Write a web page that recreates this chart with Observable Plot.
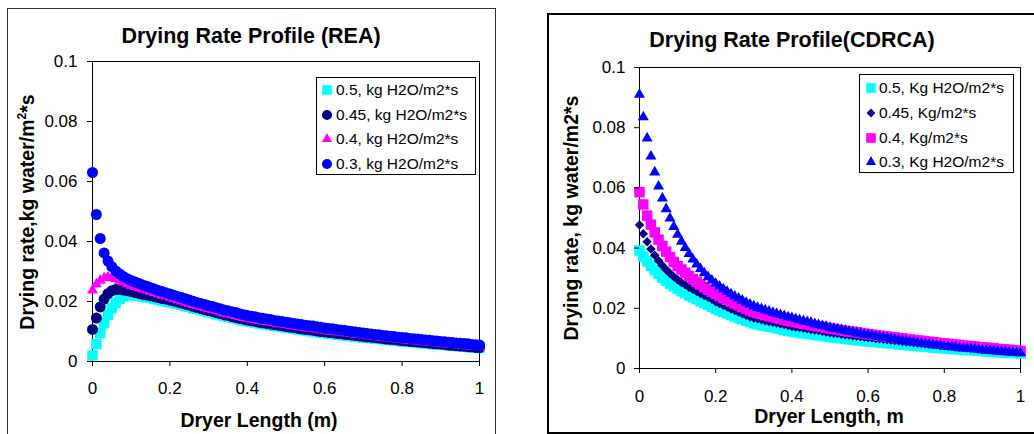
<!DOCTYPE html>
<html><head><meta charset="utf-8">
<script src="https://cdn.jsdelivr.net/npm/d3@7"></script>
<script src="https://cdn.jsdelivr.net/npm/@observablehq/plot@0.6"></script>
<style>
body{margin:0;background:#fff;font-family:"Liberation Sans",Arial,sans-serif;}
#wrap{position:relative;width:1034px;height:434px;overflow:hidden;background:#fff;}
.abs{position:absolute;white-space:nowrap;color:#000;line-height:1;}
.title{font-weight:bold;font-size:21.5px;transform:translate(-50%,-50%);}
.xt{font-weight:bold;font-size:19.5px;transform:translate(-50%,-50%);}
.yt{font-weight:bold;font-size:19.5px;transform:translate(-50%,-50%) rotate(-90deg);}
.yt sup{font-size:12px;vertical-align:8px;line-height:0;}
.box{position:absolute;box-sizing:border-box;}
.legend{position:absolute;border:1px solid #000;background:#fff;box-sizing:border-box;}
.item{position:absolute;font-size:15.5px;white-space:nowrap;line-height:16px;}
.sw{position:absolute;}
</style></head>
<body><div id="wrap"></div>
<script>
// ---------- data ----------
const lengths = [
0,0.01,0.02,0.03,0.04,0.05,0.06,0.07,0.08,0.09,
0.1,0.11,0.12,0.13,0.14,0.15,0.16,0.17,0.18,0.19,
0.2,0.21,0.22,0.23,0.24,0.25,0.26,0.27,0.28,0.29,
0.3,0.31,0.32,0.33,0.34,0.35,0.36,0.37,0.38,0.39,
0.4,0.41,0.42,0.43,0.44,0.45,0.46,0.47,0.48,0.49,
0.5,0.51,0.52,0.53,0.54,0.55,0.56,0.57,0.58,0.59,
0.6,0.61,0.62,0.63,0.64,0.65,0.66,0.67,0.68,0.69,
0.7,0.71,0.72,0.73,0.74,0.75,0.76,0.77,0.78,0.79,
0.8,0.81,0.82,0.83,0.84,0.85,0.86,0.87,0.88,0.89,
0.9,0.91,0.92,0.93,0.94,0.95,0.96,0.97,0.98,0.99,
1];

// REA panel
const reaRate05 = [
0.0020,0.0058,0.0095,0.0128,0.0155,0.0178,0.0196,0.0209,0.0217,0.0221,
0.0222,0.0221,0.0219,0.0217,0.0214,0.0212,0.0209,0.0206,0.0203,0.0200,
0.0198,0.0195,0.0192,0.0189,0.0185,0.0182,0.0178,0.0175,0.0171,0.0168,
0.0165,0.0162,0.0158,0.0155,0.0152,0.0149,0.0146,0.0143,0.0140,0.0137,
0.0134,0.0132,0.0130,0.0127,0.0125,0.0123,0.0121,0.0119,0.0117,0.0115,
0.0113,0.0111,0.0109,0.0107,0.0105,0.0104,0.0102,0.0100,0.0098,0.0097,
0.0095,0.0093,0.0092,0.0090,0.0089,0.0087,0.0086,0.0085,0.0083,0.0082,
0.0080,0.0079,0.0078,0.0076,0.0075,0.0074,0.0072,0.0071,0.0070,0.0069,
0.0067,0.0066,0.0065,0.0064,0.0063,0.0062,0.0060,0.0059,0.0058,0.0057,
0.0056,0.0055,0.0054,0.0053,0.0052,0.0050,0.0049,0.0048,0.0047,0.0046,
0.0045];
const reaRate045 = [
0.0107,0.0145,0.0182,0.0208,0.0226,0.0236,0.0240,0.0240,0.0238,0.0236,
0.0233,0.0230,0.0227,0.0224,0.0222,0.0219,0.0216,0.0213,0.0210,0.0208,
0.0205,0.0202,0.0198,0.0195,0.0191,0.0188,0.0184,0.0180,0.0177,0.0173,
0.0170,0.0167,0.0163,0.0160,0.0156,0.0153,0.0150,0.0147,0.0144,0.0141,
0.0138,0.0136,0.0134,0.0131,0.0129,0.0127,0.0125,0.0123,0.0121,0.0119,
0.0117,0.0115,0.0113,0.0111,0.0109,0.0107,0.0106,0.0104,0.0102,0.0100,
0.0099,0.0097,0.0096,0.0094,0.0093,0.0091,0.0090,0.0088,0.0087,0.0085,
0.0084,0.0082,0.0081,0.0080,0.0078,0.0077,0.0075,0.0074,0.0073,0.0071,
0.0070,0.0069,0.0067,0.0066,0.0065,0.0064,0.0063,0.0061,0.0060,0.0059,
0.0058,0.0057,0.0055,0.0054,0.0053,0.0052,0.0051,0.0050,0.0049,0.0047,
0.0046];
const reaRate04 = [
0.0237,0.0258,0.0270,0.0278,0.0281,0.0279,0.0275,0.0270,0.0264,0.0258,
0.0253,0.0249,0.0245,0.0241,0.0237,0.0233,0.0229,0.0225,0.0221,0.0217,
0.0213,0.0209,0.0205,0.0201,0.0197,0.0193,0.0189,0.0185,0.0182,0.0178,
0.0175,0.0172,0.0168,0.0165,0.0161,0.0158,0.0155,0.0152,0.0149,0.0146,
0.0143,0.0141,0.0139,0.0136,0.0134,0.0132,0.0130,0.0128,0.0126,0.0124,
0.0122,0.0120,0.0118,0.0116,0.0114,0.0112,0.0110,0.0109,0.0107,0.0105,
0.0103,0.0101,0.0100,0.0098,0.0097,0.0095,0.0094,0.0092,0.0090,0.0089,
0.0087,0.0086,0.0084,0.0083,0.0081,0.0080,0.0078,0.0077,0.0075,0.0074,
0.0072,0.0071,0.0070,0.0068,0.0067,0.0066,0.0065,0.0063,0.0062,0.0061,
0.0059,0.0058,0.0057,0.0056,0.0055,0.0054,0.0052,0.0051,0.0050,0.0049,
0.0048];
const reaRate03 = [
0.0630,0.0490,0.0410,0.0362,0.0335,0.0316,0.0302,0.0292,0.0283,0.0276,
0.0270,0.0265,0.0260,0.0255,0.0251,0.0246,0.0242,0.0237,0.0233,0.0229,
0.0225,0.0221,0.0217,0.0213,0.0209,0.0205,0.0201,0.0197,0.0193,0.0190,
0.0186,0.0183,0.0179,0.0176,0.0172,0.0169,0.0166,0.0163,0.0159,0.0156,
0.0153,0.0151,0.0149,0.0146,0.0144,0.0142,0.0140,0.0137,0.0135,0.0133,
0.0131,0.0129,0.0127,0.0125,0.0123,0.0121,0.0119,0.0118,0.0116,0.0114,
0.0112,0.0110,0.0109,0.0107,0.0105,0.0104,0.0102,0.0100,0.0098,0.0097,
0.0095,0.0093,0.0092,0.0090,0.0089,0.0087,0.0086,0.0084,0.0083,0.0081,
0.0080,0.0079,0.0077,0.0076,0.0075,0.0073,0.0072,0.0071,0.0069,0.0068,
0.0067,0.0066,0.0064,0.0063,0.0062,0.0061,0.0060,0.0059,0.0057,0.0056,
0.0055];

// CDRCA panel
const cdrcaRate05 = [
0.0392,0.0372,0.0356,0.0341,0.0327,0.0314,0.0302,0.0291,0.0282,0.0273,
0.0265,0.0257,0.0250,0.0243,0.0237,0.0230,0.0224,0.0218,0.0212,0.0205,
0.0198,0.0193,0.0188,0.0183,0.0178,0.0173,0.0168,0.0164,0.0159,0.0155,
0.0150,0.0147,0.0144,0.0142,0.0139,0.0137,0.0134,0.0131,0.0128,0.0126,
0.0123,0.0121,0.0119,0.0117,0.0115,0.0114,0.0112,0.0110,0.0108,0.0107,
0.0105,0.0103,0.0102,0.0100,0.0099,0.0097,0.0096,0.0094,0.0093,0.0091,
0.0090,0.0089,0.0088,0.0086,0.0085,0.0084,0.0083,0.0082,0.0080,0.0079,
0.0078,0.0077,0.0076,0.0075,0.0074,0.0073,0.0071,0.0070,0.0069,0.0068,
0.0067,0.0066,0.0065,0.0064,0.0063,0.0062,0.0062,0.0061,0.0060,0.0059,
0.0058,0.0057,0.0056,0.0055,0.0055,0.0054,0.0053,0.0052,0.0052,0.0051,
0.0050];
const cdrcaRate045 = [
0.0477,0.0448,0.0421,0.0397,0.0376,0.0358,0.0342,0.0328,0.0316,0.0305,
0.0295,0.0286,0.0278,0.0270,0.0263,0.0256,0.0249,0.0243,0.0237,0.0230,
0.0222,0.0216,0.0210,0.0204,0.0198,0.0193,0.0188,0.0182,0.0177,0.0172,
0.0168,0.0165,0.0162,0.0159,0.0156,0.0154,0.0151,0.0149,0.0146,0.0143,
0.0140,0.0138,0.0136,0.0134,0.0132,0.0130,0.0128,0.0126,0.0124,0.0121,
0.0119,0.0117,0.0116,0.0114,0.0112,0.0111,0.0109,0.0108,0.0106,0.0105,
0.0103,0.0102,0.0100,0.0099,0.0097,0.0096,0.0095,0.0093,0.0092,0.0090,
0.0089,0.0088,0.0086,0.0085,0.0084,0.0083,0.0081,0.0080,0.0079,0.0077,
0.0076,0.0075,0.0074,0.0073,0.0072,0.0071,0.0069,0.0068,0.0067,0.0066,
0.0065,0.0064,0.0063,0.0062,0.0061,0.0060,0.0059,0.0058,0.0057,0.0056,
0.0055];
const cdrcaRate04 = [
0.0586,0.0545,0.0508,0.0478,0.0452,0.0428,0.0407,0.0388,0.0370,0.0354,
0.0340,0.0329,0.0318,0.0307,0.0297,0.0288,0.0279,0.0270,0.0262,0.0255,
0.0248,0.0241,0.0234,0.0228,0.0222,0.0216,0.0210,0.0204,0.0199,0.0193,
0.0188,0.0184,0.0181,0.0177,0.0174,0.0171,0.0168,0.0165,0.0162,0.0159,
0.0156,0.0154,0.0151,0.0149,0.0147,0.0144,0.0142,0.0140,0.0138,0.0135,
0.0133,0.0131,0.0129,0.0127,0.0125,0.0123,0.0122,0.0120,0.0118,0.0116,
0.0114,0.0112,0.0111,0.0109,0.0107,0.0106,0.0104,0.0103,0.0101,0.0100,
0.0098,0.0096,0.0095,0.0093,0.0092,0.0090,0.0089,0.0087,0.0086,0.0084,
0.0083,0.0082,0.0080,0.0079,0.0078,0.0076,0.0075,0.0074,0.0073,0.0071,
0.0070,0.0069,0.0068,0.0067,0.0065,0.0064,0.0063,0.0062,0.0061,0.0059,
0.0058];
const cdrcaRate03 = [
0.0910,0.0835,0.0765,0.0705,0.0652,0.0605,0.0565,0.0530,0.0499,0.0471,
0.0445,0.0422,0.0401,0.0381,0.0363,0.0346,0.0331,0.0317,0.0304,0.0293,
0.0282,0.0273,0.0264,0.0255,0.0247,0.0240,0.0233,0.0226,0.0219,0.0213,
0.0207,0.0202,0.0198,0.0194,0.0190,0.0186,0.0182,0.0178,0.0175,0.0171,
0.0168,0.0165,0.0161,0.0158,0.0155,0.0152,0.0148,0.0145,0.0142,0.0139,
0.0136,0.0133,0.0131,0.0128,0.0126,0.0123,0.0121,0.0118,0.0116,0.0113,
0.0111,0.0109,0.0107,0.0105,0.0103,0.0101,0.0099,0.0097,0.0095,0.0092,
0.0090,0.0088,0.0087,0.0085,0.0083,0.0082,0.0080,0.0078,0.0077,0.0075,
0.0073,0.0072,0.0071,0.0070,0.0068,0.0067,0.0066,0.0065,0.0064,0.0062,
0.0061,0.0060,0.0059,0.0058,0.0057,0.0056,0.0055,0.0054,0.0053,0.0052,
0.0051];

const reaLabels = ["0.5, kg H2O/m2*s", "0.45, kg H2O/m2*s", "0.4, kg H2O/m2*s", "0.3, kg H2O/m2*s"];
const cdrcaLabels = ["0.5, Kg H2O/m2*s", "0.45, Kg/m2*s", "0.4, Kg/m2*s", "0.3, Kg H2O/m2*s"];
const rateTicks = [0, 0.02, 0.04, 0.06, 0.08, 0.1];
const lengthTicks = [0, 0.2, 0.4, 0.6, 0.8, 1];

// ---------- styles ----------
const FONT = '"Liberation Sans", Arial, sans-serif';
const fmt = d3.format("~g");
const symD3 = {circle: d3.symbolCircle, square: d3.symbolSquare, triangle: d3.symbolTriangle, diamond2: d3.symbolDiamond2};

const reaSeries = [
  {values: reaRate05, color: "#00FFFF", symbol: "square", r: 5.9},
  {values: reaRate045, color: "#000080", symbol: "circle", r: 5.5},
  {values: reaRate04, color: "#FF00FF", symbol: "triangle", r: 4.1},
  {values: reaRate03, color: "#0000FF", symbol: "circle", r: 5.5}
];
const cdrcaSeries = [
  {values: cdrcaRate05, color: "#00FFFF", symbol: "square", r: 5.9},
  {values: cdrcaRate045, color: "#000080", symbol: "diamond2", r: 4.3},
  {values: cdrcaRate04, color: "#FF00FF", symbol: "square", r: 5.9},
  {values: cdrcaRate03, color: "#0000FF", symbol: "triangle", r: 4.1}
];

const wrap = document.getElementById("wrap");

function makePanel(series, cfg) {
  const marks = [Plot.frame({stroke: "#000"})];
  for (const s of series) {
    const rows = lengths.map((x, i) => ({x, y: s.values[i]}));
    marks.push(Plot.dot(rows, {x: "x", y: "y", symbol: s.symbol, r: s.r, fill: s.color}));
  }
  marks.push(Plot.axisX({ticks: lengthTicks, tickFormat: fmt, tickSize: 5, tickPadding: cfg.xPad, label: null}));
  marks.push(Plot.axisY({ticks: rateTicks, tickFormat: fmt, tickSize: 5, tickPadding: cfg.yPad, label: null}));
  const svg = Plot.plot({
    width: cfg.w, height: 434,
    marginLeft: cfg.ml, marginRight: cfg.mr, marginTop: cfg.mt, marginBottom: cfg.mb,
    x: {domain: [0, 1]}, y: {domain: [0, 0.1]},
    style: {fontFamily: FONT, fontSize: "17px", color: "#000", background: "transparent", overflow: "visible"},
    marks
  });
  svg.style.position = "absolute";
  svg.style.left = cfg.left + "px";
  svg.style.top = "0px";
  wrap.appendChild(svg);
}

function addText(cls, html, x, y) {
  const d = document.createElement("div");
  d.className = "abs " + cls;
  d.style.left = x + "px"; d.style.top = y + "px";
  d.innerHTML = html;
  wrap.appendChild(d);
}

function addBox(l, t, w, h, border) {
  const d = document.createElement("div");
  d.className = "box";
  Object.assign(d.style, {left: l + "px", top: t + "px", width: w + "px", height: h + "px", border});
  wrap.appendChild(d);
}

function addLegend(series, labels, cfg) {
  const box = document.createElement("div");
  box.className = "legend";
  Object.assign(box.style, {left: cfg.l + "px", top: cfg.t + "px", width: cfg.w + "px", height: cfg.h + "px"});
  series.forEach((s, i) => {
    const cy = cfg.rows[i];
    const ns = "http://www.w3.org/2000/svg";
    const sv = document.createElementNS(ns, "svg");
    sv.setAttribute("width", 14); sv.setAttribute("height", 14);
    sv.setAttribute("class", "sw");
    sv.style.left = (cfg.sx - 7) + "px"; sv.style.top = (cy - 7) + "px";
    const p = document.createElementNS(ns, "path");
    p.setAttribute("transform", "translate(7,7)");
    p.setAttribute("d", d3.symbol(symD3[s.symbol], Math.PI * s.r * s.r * 0.85)());
    p.setAttribute("fill", s.color);
    sv.appendChild(p);
    box.appendChild(sv);
    const t = document.createElement("div");
    t.className = "item";
    t.style.left = cfg.tx + "px"; t.style.top = (cy - 8) + "px";
    t.textContent = labels[i];
    box.appendChild(t);
  });
  wrap.appendChild(box);
}

// outer panel borders
addBox(7, 8, 489, 440, "1px solid #333");
addBox(547, 13, 500, 421, "2px solid #000");

// left panel (REA): plot area x 92..479, y 61..361
makePanel(reaSeries, {left: 0, w: 520, ml: 92, mr: 41, mt: 61, mb: 73, xPad: 15, yPad: 10});
// right panel (CDRCA): plot area x 639..1020, y 67..368
makePanel(cdrcaSeries, {left: 530, w: 504, ml: 109, mr: 14, mt: 67, mb: 66, xPad: 16, yPad: 9});

addText("title", "Drying Rate Profile (REA)", 251, 37);
addText("title", "Drying Rate Profile(CDRCA)", 792, 41);
addText("xt", "Dryer Length (m)", 259, 421);
addText("xt", "Dryer Length, m", 829, 417);
addText("yt", "Drying rate,kg water/m<sup>2</sup>*s", 28, 212);
addText("yt", "Drying rate, kg water/m2*s", 572, 218);

addLegend(reaSeries, reaLabels, {l: 316, t: 77, w: 160, h: 98, sx: 10, tx: 19, rows: [12, 37, 61, 86]});
addLegend(cdrcaSeries, cdrcaLabels, {l: 859, t: 74, w: 155, h: 99, sx: 11, tx: 19, rows: [13, 38, 63, 87]});
</script>
</body></html>
